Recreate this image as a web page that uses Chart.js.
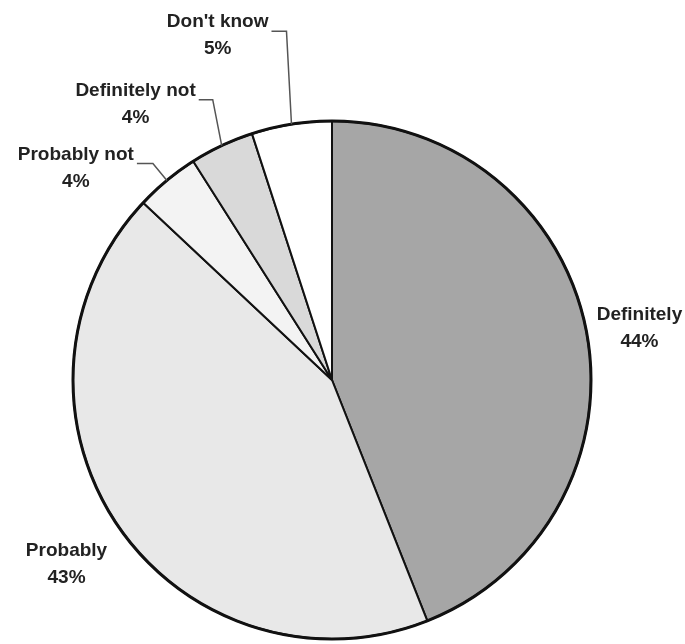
<!DOCTYPE html>
<html><head><meta charset="utf-8">
<script src="https://cdn.jsdelivr.net/npm/chart.js@4"></script>
<style>html,body{margin:0;padding:0;background:#fff}</style>
</head><body>
<canvas id="c" width="685" height="644"></canvas>
<script>
const categories = ["Definitely", "Probably", "Probably not", "Definitely not", "Don't know"];
const percents = [44, 43, 4, 4, 5];
const valueLabels = ["44%", "43%", "4%", "4%", "5%"];
const sliceColors = ["#a6a6a6", "#e8e8e8", "#f3f3f3", "#d9d9d9", "#ffffff"];

// label placement (style only)
const labelLayout = [
  {type: 'radial', dist: 54, dy: 7},
  {type: 'radial', dist: 62, dy: 4},
  {type: 'leader', lean: -14, rise: 17, run: 16},
  {type: 'leader', lean: -9, rise: 46, run: 14},
  {type: 'leader', lean: -5, rise: 93, run: 15}
];

const labelPlugin = {
  id: 'labels',
  afterDatasetsDraw(chart) {
    const ctx = chart.ctx;
    const arcs = chart.getDatasetMeta(0).data;
    if (!arcs.length) return;
    const cx = arcs[0].x, cy = arcs[0].y, r = arcs[0].outerRadius;
    ctx.save();
    ctx.beginPath();
    ctx.arc(cx, cy, r, 0, Math.PI * 2);
    ctx.lineWidth = 3;
    ctx.strokeStyle = '#111';
    ctx.stroke();
    ctx.restore();

    ctx.save();
    ctx.font = 'bold 19px "Liberation Sans", Arial, sans-serif';
    ctx.fillStyle = '#222';
    ctx.textBaseline = 'middle';
    ctx.textAlign = 'center';
    const lh = 27;
    arcs.forEach((arc, i) => {
      const L = labelLayout[i];
      const mid = (arc.startAngle + arc.endAngle) / 2;
      if (L.type === 'radial') {
        const d = r + L.dist;
        const x = cx + Math.cos(mid) * d;
        const y = cy + Math.sin(mid) * d + L.dy;
        ctx.fillText(categories[i], x, y - lh / 2);
        ctx.fillText(valueLabels[i], x, y + lh / 2);
      } else {
        const ax = cx + Math.cos(mid) * r;
        const ay = cy + Math.sin(mid) * r;
        const ex = ax + L.lean, ey = ay - L.rise;
        const hx = ex - L.run;
        ctx.beginPath();
        ctx.moveTo(ax, ay);
        ctx.lineTo(ex, ey);
        ctx.lineTo(hx, ey);
        ctx.lineWidth = 1.5;
        ctx.strokeStyle = '#555';
        ctx.stroke();
        const w = ctx.measureText(categories[i]).width;
        const tx = hx - 3 - w / 2;
        const ty = ey - 9;
        ctx.fillText(categories[i], tx, ty);
        ctx.fillText(valueLabels[i], tx, ty + lh);
      }
    });
    ctx.restore();
  }
};

new Chart(document.getElementById('c'), {
  type: 'pie',
  data: {
    labels: categories,
    datasets: [{
      data: percents,
      backgroundColor: sliceColors,
      borderColor: '#111',
      borderWidth: 2
    }]
  },
  options: {
    responsive: false,
    animation: false,
    layout: {padding: {left: 72, top: 120, right: 93, bottom: 4}},
    plugins: {legend: {display: false}, tooltip: {enabled: false}}
  },
  plugins: [labelPlugin]
});
</script>
</body></html>
